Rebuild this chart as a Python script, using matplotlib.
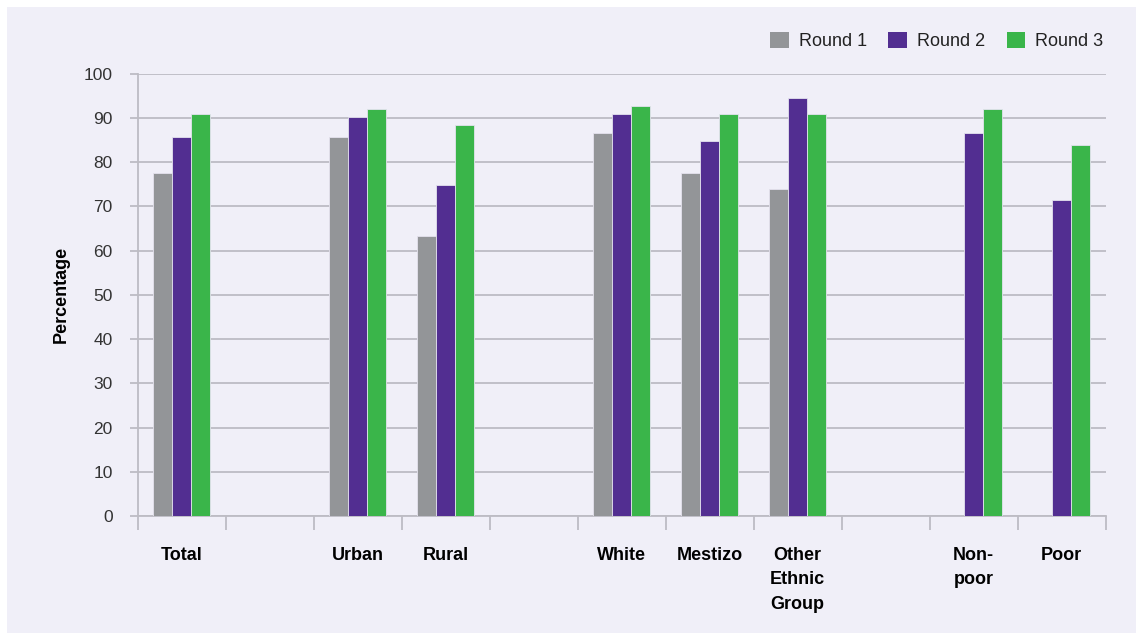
import numpy as np
import matplotlib
matplotlib.use('Agg')
import matplotlib.pyplot as plt
from matplotlib.patches import Rectangle, Patch

plt.rcParams['font.family'] = ['Liberation Sans', 'DejaVu Sans']

# empty strings are the spacer slots between groups of categories
categories = ['Total', '', 'Urban', 'Rural', '', 'White', 'Mestizo',
              'Other\nEthnic\nGroup', '', 'Non-\npoor', 'Poor']
round1 = [77.5, np.nan, 85.6, 63.3, np.nan, 86.6, 77.5, 74.0, np.nan, np.nan, np.nan]
round2 = [85.6, np.nan, 90.1, 74.9, np.nan, 91.0, 84.8, 94.6, np.nan, 86.5, 71.4]
round3 = [91.0, np.nan, 92.0, 88.3, np.nan, 92.8, 91.0, 91.0, np.nan, 92.0, 83.8]
series = ['Round 1', 'Round 2', 'Round 3']
colors = ['#939598', '#522E91', '#3AB54A']

bg = '#F0EFF8'
grid_col = '#BDBCC4'

W, H = 1143, 640
fig = plt.figure(figsize=(W / 100, H / 100), dpi=100)
fig.patch.set_facecolor('white')
fig.patches.append(Rectangle((7 / W, 7 / H), (W - 14) / W, (H - 14) / H,
                             transform=fig.transFigure, facecolor=bg,
                             edgecolor='none', zorder=-10))

ax = fig.add_axes([137.7 / W, (H - 516) / H, (1105.7 - 137.7) / W, (516 - 73.7) / H])
ax.set_facecolor('none')

x = np.arange(len(categories)) + 0.5
bw = 0.215
for k, vals in enumerate([round1, round2, round3]):
    vals = np.array(vals, dtype=float)
    ok = ~np.isnan(vals)
    ax.bar(x[ok] + (k - 1) * bw, vals[ok], width=bw, color=colors[k],
           edgecolor='#E4E2EE', linewidth=0.6, zorder=3)

ax.set_xlim(0, len(categories))
ax.set_ylim(0, 100)
ax.set_yticks(np.arange(0, 101, 10))
ax.grid(axis='y', color=grid_col, linewidth=1.3, zorder=0)
ax.tick_params(axis='y', length=6, color=grid_col, width=1.3, pad=12,
               labelsize=12.5, labelcolor='#333333')

# slot boundaries get the tick marks, labels sit centred in each slot
ax.set_xticks(np.arange(0, len(categories) + 1))
ax.set_xticklabels([])
ax.tick_params(axis='x', which='major', length=10, color=grid_col, width=1.3)
ax.set_xticks(x, minor=True)
ax.set_xticklabels(categories, minor=True, fontsize=13, fontweight='bold',
                   va='top', linespacing=1.6)
ax.tick_params(axis='x', which='minor', length=0, pad=22)

for side in ['top', 'right']:
    ax.spines[side].set_visible(False)
ax.spines['left'].set_color(grid_col)
ax.spines['left'].set_linewidth(1.3)
ax.spines['bottom'].set_color(grid_col)
ax.spines['bottom'].set_linewidth(1.3)

ax.set_ylabel('Percentage', fontsize=13, fontweight='bold', labelpad=10)

handles = [Patch(facecolor=c, edgecolor='none') for c in colors]
fig.legend(handles, series, loc='upper right', ncol=3, frameon=False,
           bbox_to_anchor=(1103 / W, 1 - 32 / H), borderaxespad=0, borderpad=0,
           fontsize=13, handlelength=1.02, handleheight=1.02,
           handletextpad=0.55, columnspacing=1.2, labelcolor='#222222')

fig.savefig('out.png', dpi=100)
